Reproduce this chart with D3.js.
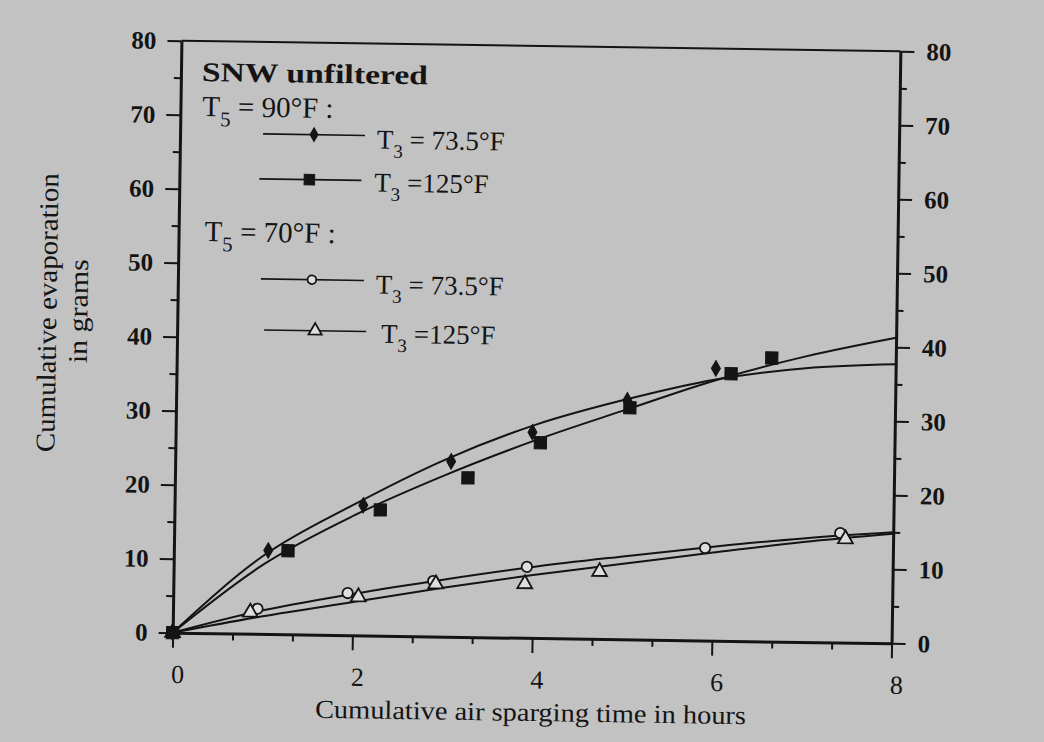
<!DOCTYPE html>
<html>
<head>
<meta charset="utf-8">
<script src="https://cdn.jsdelivr.net/npm/d3@7/dist/d3.min.js"></script>
<style>
  html, body { margin: 0; padding: 0; background: #c2c2c2; }
  svg { display: block; }
  text { font-family: "Liberation Serif", "DejaVu Serif", serif; fill: #141414; }
</style>
</head>
<body>
<svg id="chart" width="1044" height="742"></svg>
<script>
// ---------- data ----------
// T5 = 90°F, T3 = 73.5°F (filled diamonds)
const hoursA = [0, 1.05, 2.1, 3.07, 3.97, 5.02, 6.0];
const gramsA = [0, 11.3, 17.6, 23.7, 27.8, 32.3, 36.8];
// T5 = 90°F, T3 = 125°F (filled squares)
const hoursB = [0, 1.27, 2.29, 3.26, 4.06, 5.05, 6.17, 6.62];
const gramsB = [0, 11.3, 17.0, 21.5, 26.4, 31.3, 36.1, 38.3];
// T5 = 70°F, T3 = 73.5°F (open circles)
const hoursC = [0, 0.94, 1.94, 2.89, 3.93, 5.91, 7.41];
const gramsC = [0, 3.4, 5.7, 7.5, 9.6, 12.5, 14.8];
// T5 = 70°F, T3 = 125°F (open triangles)
const hoursD = [0, 0.86, 2.06, 2.92, 3.91, 4.74, 7.47];
const gramsD = [0, 2.9, 5.2, 7.1, 7.3, 9.1, 14.0];

// fitted curves drawn in the figure
const fitHours = [0, 1, 2, 3, 4, 5, 6, 7, 8];
const fitA = [0, 10.6, 17.7, 23.9, 28.8, 32.4, 35.3, 37.0, 37.7];
const fitB = [0, 9.4, 16.2, 21.8, 26.7, 31.0, 35.2, 38.6, 41.3];
const fitC = [0, 3.2, 5.6, 7.7, 9.6, 11.2, 12.7, 14.0, 15.0];
const fitD = [0, 2.4, 4.5, 6.6, 8.5, 10.2, 11.9, 13.5, 14.8];

const xTicks = [0, 2, 4, 6, 8];
const xMinorTicks = [0.6667, 1.3333, 2.6667, 3.3333, 4.6667, 5.3333, 6.6667, 7.3333];
const yTicks = [0, 10, 20, 30, 40, 50, 60, 70, 80];
const yMinorTicks = [5, 15, 25, 35, 45, 55, 65, 75];

const xTitle = "Cumulative air sparging time in hours";
const yTitle1 = "Cumulative evaporation";
const yTitle2 = "in grams";
const legendTitle = "SNW unfiltered";

// ---------- drawing ----------
const svg = d3.select("#chart");
svg.append("rect").attr("width", 1044).attr("height", 742).attr("fill", "#c2c2c2");

const L = 177, R = 896, T = 46, B = 638;
const ink = "#141414";
// the scanned figure is slightly rotated
const g = svg.append("g").attr("transform", "rotate(0.85, 536.5, 342)");

const x = d3.scaleLinear().domain([0, 8]).range([L, R]);
const y = d3.scaleLinear().domain([0, 80]).range([B, T]);

function styleAxis(sel) {
  sel.select(".domain").attr("stroke", ink).attr("stroke-width", 3);
  sel.selectAll(".tick line").attr("stroke", ink).attr("stroke-width", 2);
}

// left axis
const gl = g.append("g").attr("transform", `translate(${L},0)`)
  .call(d3.axisLeft(y).tickValues(yTicks).tickSize(14).tickSizeOuter(0).tickPadding(11).tickFormat(d3.format("d")));
styleAxis(gl);
gl.selectAll("text").attr("font-size", 25).attr("font-weight", "bold")
  .attr("font-family", "'Liberation Serif', serif").attr("fill", ink);
const glm = g.append("g").attr("transform", `translate(${L},0)`)
  .call(d3.axisLeft(y).tickValues(yMinorTicks).tickSize(7).tickSizeOuter(0).tickFormat(""));
styleAxis(glm); glm.select(".domain").remove();

// right axis
const gr = g.append("g").attr("transform", `translate(${R},0)`)
  .call(d3.axisRight(y).tickValues(yTicks).tickSize(14).tickSizeOuter(0).tickPadding(12).tickFormat(d3.format("d")));
styleAxis(gr);
gr.selectAll("text").attr("font-size", 25).attr("font-weight", "bold")
  .attr("font-family", "'Liberation Serif', serif").attr("fill", ink);
const grm = g.append("g").attr("transform", `translate(${R},0)`)
  .call(d3.axisRight(y).tickValues(yMinorTicks).tickSize(7).tickSizeOuter(0).tickFormat(""));
styleAxis(grm); grm.select(".domain").remove();

// bottom axis
const gb = g.append("g").attr("transform", `translate(0,${B})`)
  .call(d3.axisBottom(x).tickValues(xTicks).tickSize(15).tickSizeOuter(0).tickPadding(17).tickFormat(d3.format("d")));
styleAxis(gb);
gb.selectAll("text").attr("font-size", 26).attr("dx", 5)
  .attr("font-family", "'Liberation Serif', serif").attr("fill", ink);
const gbm = g.append("g").attr("transform", `translate(0,${B})`)
  .call(d3.axisBottom(x).tickValues(xMinorTicks).tickSize(7).tickSizeOuter(0).tickFormat(""));
styleAxis(gbm); gbm.select(".domain").remove();

// top frame line
g.append("line").attr("x1", L).attr("x2", R).attr("y1", y(80)).attr("y2", y(80))
  .attr("stroke", ink).attr("stroke-width", 2);

// axis titles
g.append("text").attr("x", 536).attr("y", 721).attr("text-anchor", "middle")
  .attr("font-size", 26).attr("textLength", 431).attr("lengthAdjust", "spacingAndGlyphs")
  .text(xTitle);
g.append("text").attr("transform", "translate(56,320) rotate(-90)").attr("text-anchor", "middle")
  .attr("font-size", 27).attr("textLength", 279).attr("lengthAdjust", "spacingAndGlyphs")
  .text(yTitle1);
g.append("text").attr("transform", "translate(87,318) rotate(-90)").attr("text-anchor", "middle")
  .attr("font-size", 27).attr("textLength", 104).attr("lengthAdjust", "spacingAndGlyphs")
  .text(yTitle2);

// fitted curves
const line = d3.line().x(d => x(d[0])).y(d => y(d[1])).curve(d3.curveMonotoneX);
[fitA, fitB, fitC, fitD].forEach(f => {
  g.append("path").attr("d", line(fitHours.map((h, i) => [h, f[i]])))
    .attr("fill", "none").attr("stroke", ink).attr("stroke-width", 2);
});

// markers
const sym = {
  A: d3.symbol().type(d3.symbolDiamond).size(70),
  B: d3.symbol().type(d3.symbolSquare).size(150),
  C: d3.symbol().type(d3.symbolCircle).size(85),
  D: d3.symbol().type(d3.symbolTriangle).size(95)
};
const styles = {
  A: { fill: ink, stroke: ink, sw: 1 },
  B: { fill: ink, stroke: ink, sw: 1 },
  C: { fill: "#dedede", stroke: ink, sw: 1.8 },
  D: { fill: "#dedede", stroke: ink, sw: 1.8 }
};
function drawSeries(key, hs, gs) {
  g.append("g").selectAll("path").data(hs.map((h, i) => [h, gs[i]])).join("path")
    .attr("transform", d => `translate(${x(d[0])},${y(d[1])})`)
    .attr("d", sym[key]())
    .attr("fill", styles[key].fill).attr("stroke", styles[key].stroke)
    .attr("stroke-width", styles[key].sw);
}
drawSeries("C", hoursC, gramsC);
drawSeries("D", hoursD, gramsD);
drawSeries("A", hoursA, gramsA);
drawSeries("B", hoursB, gramsB);

// legend
const lg = g.append("g");
lg.append("text").attr("x", 198).attr("y", 86).attr("font-size", 27).attr("font-weight", "bold")
  .attr("textLength", 226).attr("lengthAdjust", "spacingAndGlyphs").text(legendTitle);

function header(xp, yp, val) {
  const t = lg.append("text").attr("x", xp).attr("y", yp).attr("font-size", 29);
  t.append("tspan").text("T");
  t.append("tspan").attr("font-size", 21).attr("dy", 10).text("5");
  t.append("tspan").attr("dy", -10).text(" = " + val + "°F :");
}
header(199, 121, "90");
header(203, 246, "70");

const legendRows = [
  { key: "A", x1: 260, x2: 362, ly: 138, mx: 311, tx: 374, ty: 151, label: " = 73.5°F" },
  { key: "B", x1: 257, x2: 359, ly: 183, mx: 307, tx: 372, ty: 194, label: " =125°F" },
  { key: "C", x1: 260, x2: 363, ly: 283, mx: 311, tx: 375, ty: 296, label: " = 73.5°F" },
  { key: "D", x1: 264, x2: 366, ly: 334, mx: 315, tx: 381, ty: 345, label: " =125°F" }
];
const legendSym = {
  A: d3.symbol().type(d3.symbolDiamond).size(55),
  B: d3.symbol().type(d3.symbolSquare).size(110),
  C: d3.symbol().type(d3.symbolCircle).size(60),
  D: d3.symbol().type(d3.symbolTriangle).size(75)
};
legendRows.forEach(r => {
  lg.append("line").attr("x1", r.x1).attr("x2", r.x2).attr("y1", r.ly).attr("y2", r.ly)
    .attr("stroke", ink).attr("stroke-width", 1.6);
  lg.append("path").attr("transform", `translate(${r.mx},${r.ly})`).attr("d", legendSym[r.key]())
    .attr("fill", styles[r.key].fill).attr("stroke", styles[r.key].stroke).attr("stroke-width", styles[r.key].sw);
  const t = lg.append("text").attr("x", r.tx).attr("y", r.ty).attr("font-size", 27);
  t.append("tspan").text("T");
  t.append("tspan").attr("font-size", 19).attr("dy", 9).text("3");
  t.append("tspan").attr("dy", -9).text(r.label);
});
</script>
</body>
</html>
